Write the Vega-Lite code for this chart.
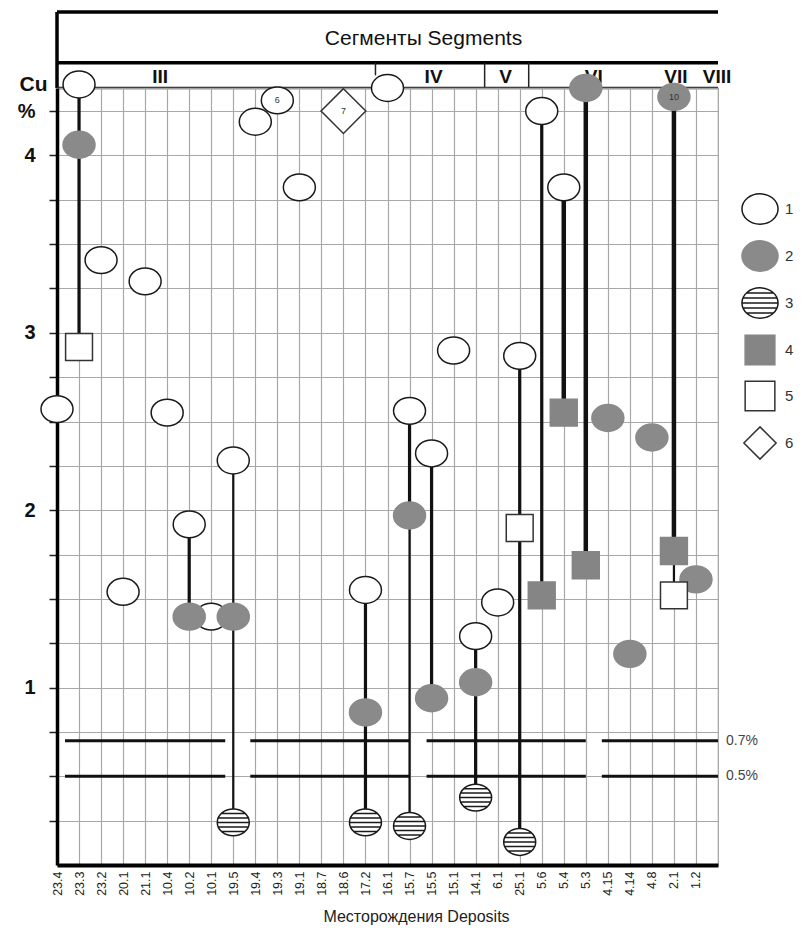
{
  "$schema": "https://vega.github.io/schema/vega-lite/v6.json",
  "padding": {"left": 16, "top": 10, "right": 5, "bottom": 5},
  "background": "white",
  "bounds": "flush",
  "config": {"font": "Liberation Sans", "view": {"stroke": null}},
  "spacing": 0,
  "resolve": {"scale": {"x": "independent", "y": "independent"}},
  "datasets": {
    "points": [
      {"dep": "23.4", "cu": 2.57, "type": "1"},
      {"dep": "23.3", "cu": 4.40, "type": "1"},
      {"dep": "23.2", "cu": 3.41, "type": "1"},
      {"dep": "20.1", "cu": 1.54, "type": "1"},
      {"dep": "21.1", "cu": 3.29, "type": "1"},
      {"dep": "10.4", "cu": 2.55, "type": "1"},
      {"dep": "10.2", "cu": 1.92, "type": "1"},
      {"dep": "10.1", "cu": 1.40, "type": "1"},
      {"dep": "19.5", "cu": 2.28, "type": "1"},
      {"dep": "19.4", "cu": 4.19, "type": "1"},
      {"dep": "19.3", "cu": 4.31, "type": "1"},
      {"dep": "19.1", "cu": 3.82, "type": "1"},
      {"dep": "17.2", "cu": 1.55, "type": "1"},
      {"dep": "16.1", "cu": 4.38, "type": "1"},
      {"dep": "15.7", "cu": 2.56, "type": "1"},
      {"dep": "15.5", "cu": 2.32, "type": "1"},
      {"dep": "15.1", "cu": 2.90, "type": "1"},
      {"dep": "14.1", "cu": 1.29, "type": "1"},
      {"dep": "6.1", "cu": 1.48, "type": "1"},
      {"dep": "25.1", "cu": 2.87, "type": "1"},
      {"dep": "5.6", "cu": 4.25, "type": "1"},
      {"dep": "5.4", "cu": 3.82, "type": "1"},
      {"dep": "23.3", "cu": 4.06, "type": "2"},
      {"dep": "10.2", "cu": 1.40, "type": "2"},
      {"dep": "19.5", "cu": 1.40, "type": "2"},
      {"dep": "17.2", "cu": 0.86, "type": "2"},
      {"dep": "15.7", "cu": 1.97, "type": "2"},
      {"dep": "15.5", "cu": 0.94, "type": "2"},
      {"dep": "14.1", "cu": 1.03, "type": "2"},
      {"dep": "5.3", "cu": 4.38, "type": "2"},
      {"dep": "4.15", "cu": 2.52, "type": "2"},
      {"dep": "4.14", "cu": 1.19, "type": "2"},
      {"dep": "4.8", "cu": 2.41, "type": "2"},
      {"dep": "2.1", "cu": 4.33, "type": "2"},
      {"dep": "1.2", "cu": 1.61, "type": "2"},
      {"dep": "19.5", "cu": 0.24, "type": "3"},
      {"dep": "17.2", "cu": 0.24, "type": "3"},
      {"dep": "15.7", "cu": 0.22, "type": "3"},
      {"dep": "14.1", "cu": 0.38, "type": "3"},
      {"dep": "25.1", "cu": 0.13, "type": "3"},
      {"dep": "5.6", "cu": 1.52, "type": "4"},
      {"dep": "5.4", "cu": 2.55, "type": "4"},
      {"dep": "5.3", "cu": 1.69, "type": "4"},
      {"dep": "2.1", "cu": 1.77, "type": "4"},
      {"dep": "23.3", "cu": 2.92, "type": "5"},
      {"dep": "25.1", "cu": 1.90, "type": "5"},
      {"dep": "2.1", "cu": 1.52, "type": "5"},
      {"dep": "18.6", "cu": 4.25, "type": "6"}
    ],
    "links": [
      {"dep": "23.3", "top": 4.40, "bot": 2.92},
      {"dep": "10.2", "top": 1.92, "bot": 1.40},
      {"dep": "17.2", "top": 1.55, "bot": 0.24},
      {"dep": "15.7", "top": 2.56, "bot": 1.97},
      {"dep": "15.5", "top": 2.32, "bot": 0.94},
      {"dep": "14.1", "top": 1.29, "bot": 0.38},
      {"dep": "25.1", "top": 2.87, "bot": 0.13},
      {"dep": "5.6", "top": 4.25, "bot": 1.52}
    ],
    "linksThin": [
      {"dep": "19.5", "top": 2.28, "bot": 0.24},
      {"dep": "15.7", "top": 1.97, "bot": 0.22},
      {"dep": "2.1", "top": 1.77, "bot": 1.52}
    ],
    "linksHeavy": [
      {"dep": "5.4", "top": 3.82, "bot": 2.55},
      {"dep": "5.3", "top": 4.38, "bot": 1.69},
      {"dep": "2.1", "top": 4.33, "bot": 1.77}
    ],
    "ref": [
      {"seg": 1, "level": 0.7, "from": "23.4", "to": "10.1"},
      {"seg": 1, "level": 0.5, "from": "23.4", "to": "10.1"},
      {"seg": 2, "level": 0.7, "from": "19.4", "to": "15.7"},
      {"seg": 2, "level": 0.5, "from": "19.4", "to": "15.7"},
      {"seg": 2, "level": 0.7, "from": "15.5", "to": "5.3"},
      {"seg": 2, "level": 0.5, "from": "15.5", "to": "5.3"},
      {"seg": 3, "level": 0.7, "from": "4.15", "to": "1.2"},
      {"seg": 3, "level": 0.5, "from": "4.15", "to": "1.2"}
    ],
    "refLabels": [
      {"level": 0.7, "text": "0.7%"},
      {"level": 0.5, "text": "0.5%"}
    ],
    "numbers": [
      {"dep": "19.3", "cu": 4.31, "n": "6"},
      {"dep": "18.6", "cu": 4.25, "n": "7"},
      {"dep": "2.1", "cu": 4.33, "n": "10"}
    ],
    "segments": [
      {"seg": "III", "at": "10.4", "grp": "a"},
      {"seg": "IV", "at": "15.5", "grp": "b"},
      {"seg": "VII", "at": "2.1", "grp": "b"},
      {"seg": "V", "at": "6.1", "grp": "c"},
      {"seg": "VI", "at": "5.3", "grp": "c"},
      {"seg": "VIII", "at": "1.2", "grp": "d"}
    ],
    "dividers": [
      {"after": "17.2", "kind": "short"},
      {"after": "14.1", "kind": "full"},
      {"after": "25.1", "kind": "full"}
    ]
  },
  "vconcat": [
    {
      "width": 661,
      "height": 76,
      "layer": [
        {
          "data": {"values": [{}]},
          "mark": {"type": "rule", "strokeWidth": 3.5, "color": "black"},
          "encoding": {"y": {"datum": 3, "type": "quantitative", "scale": {"domain": [0, 3], "nice": false}, "axis": null}}
        },
        {
          "data": {"values": [{}]},
          "mark": {"type": "rule", "strokeWidth": 3.5, "color": "black"},
          "encoding": {"y": {"datum": 1, "type": "quantitative", "scale": {"domain": [0, 3], "nice": false}, "axis": null}}
        },
        {
          "data": {"values": [{}]},
          "mark": {"type": "rule", "strokeWidth": 2.5, "color": "#222"},
          "encoding": {"y": {"datum": 0, "type": "quantitative", "scale": {"domain": [0, 3], "nice": false}, "axis": null}}
        },
        {
          "data": {"values": [{}]},
          "mark": {"type": "rule", "strokeWidth": 3.5, "color": "black"},
          "encoding": {"x": {"datum": "23.4", "type": "ordinal", "scale": {"type": "point", "domain": ["23.4","23.3","23.2","20.1","21.1","10.4","10.2","10.1","19.5","19.4","19.3","19.1","18.7","18.6","17.2","16.1","15.7","15.5","15.1","14.1","6.1","25.1","5.6","5.4","5.3","4.15","4.14","4.8","2.1","1.2"], "padding": 0.5, "align": 0}, "axis": null}}
        },
        {
          "data": {"values": [{"t": "Сегменты  Segments"}]},
          "mark": {"type": "text", "fontSize": 21, "dx": 36, "color": "#111"},
          "encoding": {
            "y": {"datum": 1.95, "type": "quantitative", "scale": {"domain": [0, 3], "nice": false}, "axis": null},
            "text": {"field": "t"}
          }
        },
        {
          "data": {"name": "dividers"},
          "transform": [{"filter": "datum.kind == 'short'"}],
          "mark": {"type": "rule", "strokeWidth": 1.5, "color": "#222", "xOffset": 10},
          "encoding": {
            "x": {"field": "after", "type": "ordinal", "axis": null},
            "y": {"datum": 1, "type": "quantitative", "scale": {"domain": [0, 3], "nice": false}, "axis": null},
            "y2": {"datum": 0.5}
          }
        },
        {
          "data": {"name": "dividers"},
          "transform": [{"filter": "datum.kind == 'full'"}],
          "mark": {"type": "rule", "strokeWidth": 1.5, "color": "#222", "xOffset": 9},
          "encoding": {
            "x": {"field": "after", "type": "ordinal", "axis": null},
            "y": {"datum": 1, "type": "quantitative", "scale": {"domain": [0, 3], "nice": false}, "axis": null},
            "y2": {"datum": 0}
          }
        },
        {
          "data": {"name": "segments"},
          "transform": [{"filter": "datum.grp == 'a'"}],
          "mark": {"type": "text", "fontSize": 19, "fontWeight": "bold", "dx": -7, "color": "#111"},
          "encoding": {
            "x": {"field": "at", "type": "ordinal", "axis": null},
            "y": {"datum": 0.45, "type": "quantitative", "scale": {"domain": [0, 3], "nice": false}, "axis": null},
            "text": {"field": "seg"}
          }
        },
        {
          "data": {"name": "segments"},
          "transform": [{"filter": "datum.grp == 'b'"}],
          "mark": {"type": "text", "fontSize": 19, "fontWeight": "bold", "dx": 2, "color": "#111"},
          "encoding": {
            "x": {"field": "at", "type": "ordinal", "axis": null},
            "y": {"datum": 0.45, "type": "quantitative", "scale": {"domain": [0, 3], "nice": false}, "axis": null},
            "text": {"field": "seg"}
          }
        },
        {
          "data": {"name": "segments"},
          "transform": [{"filter": "datum.grp == 'c'"}],
          "mark": {"type": "text", "fontSize": 19, "fontWeight": "bold", "dx": 8, "color": "#111"},
          "encoding": {
            "x": {"field": "at", "type": "ordinal", "axis": null},
            "y": {"datum": 0.45, "type": "quantitative", "scale": {"domain": [0, 3], "nice": false}, "axis": null},
            "text": {"field": "seg"}
          }
        },
        {
          "data": {"name": "segments"},
          "transform": [{"filter": "datum.grp == 'd'"}],
          "mark": {"type": "text", "fontSize": 19, "fontWeight": "bold", "dx": 21, "color": "#111"},
          "encoding": {
            "x": {"field": "at", "type": "ordinal", "axis": null},
            "y": {"datum": 0.45, "type": "quantitative", "scale": {"domain": [0, 3], "nice": false}, "axis": null},
            "text": {"field": "seg"}
          }
        }
      ]
    },
    {
      "width": 661,
      "height": 777,
      "view": {"stroke": "#a0a0a0", "strokeWidth": 1.2},
      "encoding": {
        "x": {
          "field": "dep",
          "type": "ordinal",
          "scale": {"type": "point", "domain": ["23.4","23.3","23.2","20.1","21.1","10.4","10.2","10.1","19.5","19.4","19.3","19.1","18.7","18.6","17.2","16.1","15.7","15.5","15.1","14.1","6.1","25.1","5.6","5.4","5.3","4.15","4.14","4.8","2.1","1.2"], "padding": 0.5, "align": 0},
          "axis": {
            "orient": "bottom",
            "title": "Месторождения Deposits",
            "titleFontSize": 16,
            "titleFontWeight": "normal",
            "titleColor": "#222",
            "titleX": 359,
            "titleY": 56,
            "titleBaseline": "alphabetic",
            "labelAngle": -90,
            "labelFontSize": 12.5,
            "labelColor": "#222",
            "labelPadding": 6,
            "ticks": false,
            "domainColor": "black",
            "domainWidth": 4,
            "grid": true,
            "gridColor": "#a8a8a8",
            "gridWidth": 1.2
          }
        },
        "y": {
          "field": "cu",
          "type": "quantitative",
          "scale": {"domain": [0, 4.38], "nice": false, "zero": true},
          "axis": {
            "values": [0.25, 0.5, 0.75, 1, 1.25, 1.5, 1.75, 2, 2.25, 2.5, 2.75, 3, 3.25, 3.5, 3.75, 4, 4.25],
            "labelExpr": "datum.value == 4.25 ? '%' : (datum.value % 1 == 0 ? format(datum.value, 'd') : '')",
            "labelFontSize": 20,
            "labelFontWeight": "bold",
            "labelColor": "#111",
            "labelPadding": 14,
            "tickSize": 8,
            "tickWidth": 1.5,
            "tickColor": "#222",
            "domainColor": "black",
            "domainWidth": 3.5,
            "grid": true,
            "gridColor": "#a8a8a8",
            "gridWidth": 1.2,
            "title": "Cu",
            "titleAngle": 0,
            "titleAlign": "center",
            "titleBaseline": "middle",
            "titleX": -24,
            "titleY": -4,
            "titleFontSize": 21,
            "titleFontWeight": "bold",
            "titleColor": "#111"
          }
        }
      },
      "layer": [
        {
          "data": {"name": "ref"},
          "transform": [{"filter": "datum.seg == 1"}],
          "mark": {"type": "rule", "strokeWidth": 3, "color": "#111", "xOffset": 8, "x2Offset": 14},
          "encoding": {
            "x": {"field": "from", "type": "ordinal"},
            "x2": {"field": "to"},
            "y": {"field": "level", "type": "quantitative"}
          }
        },
        {
          "data": {"name": "ref"},
          "transform": [{"filter": "datum.seg == 2"}],
          "mark": {"type": "rule", "strokeWidth": 3, "color": "#111", "xOffset": -5, "x2Offset": 0},
          "encoding": {
            "x": {"field": "from", "type": "ordinal"},
            "x2": {"field": "to"},
            "y": {"field": "level", "type": "quantitative"}
          }
        },
        {
          "data": {"name": "ref"},
          "transform": [{"filter": "datum.seg == 3"}],
          "mark": {"type": "rule", "strokeWidth": 3, "color": "#111", "xOffset": -6, "x2Offset": 22},
          "encoding": {
            "x": {"field": "from", "type": "ordinal"},
            "x2": {"field": "to"},
            "y": {"field": "level", "type": "quantitative"}
          }
        },
        {
          "data": {"name": "refLabels"},
          "mark": {"type": "text", "align": "left", "dx": 30, "fontSize": 14, "color": "#444"},
          "encoding": {
            "x": {"datum": "1.2", "type": "ordinal"},
            "y": {"field": "level", "type": "quantitative"},
            "text": {"field": "text"}
          }
        },
        {
          "data": {"name": "links"},
          "mark": {"type": "rule", "strokeWidth": 3.2, "color": "#111"},
          "encoding": {
            "y": {"field": "top", "type": "quantitative"},
            "y2": {"field": "bot"}
          }
        },
        {
          "data": {"name": "linksThin"},
          "mark": {"type": "rule", "strokeWidth": 2.2, "color": "#111"},
          "encoding": {
            "y": {"field": "top", "type": "quantitative"},
            "y2": {"field": "bot"}
          }
        },
        {
          "data": {"name": "linksHeavy"},
          "mark": {"type": "rule", "strokeWidth": 4.5, "color": "#111"},
          "encoding": {
            "y": {"field": "top", "type": "quantitative"},
            "y2": {"field": "bot"}
          }
        },
        {
          "data": {"name": "points"},
          "mark": {"type": "point", "filled": true, "opacity": 1, "size": 1024, "strokeWidth": 1.5},
          "encoding": {
            "shape": {
              "field": "type",
              "type": "nominal",
              "scale": {
                "domain": ["1", "2", "3", "4", "5", "6"],
                "range": [
                  "M-1,0A1,0.84,0,1,1,1,0A1,0.84,0,1,1,-1,0Z",
                  "M-1,0A1,0.84,0,1,1,1,0A1,0.84,0,1,1,-1,0Z",
                  "M-1,0A1,0.84,0,1,1,1,0A1,0.84,0,1,1,-1,0ZM-0.75,-0.56L0.75,-0.56M-0.94,-0.28L0.94,-0.28M-1,0L1,0M-0.94,0.28L0.94,0.28M-0.75,0.56L0.75,0.56",
                  "M-0.84,-0.84L0.84,-0.84L0.84,0.84L-0.84,0.84Z",
                  "M-0.84,-0.84L0.84,-0.84L0.84,0.84L-0.84,0.84Z",
                  "M0,-1.4L1.4,0L0,1.4L-1.4,0Z"
                ]
              },
              "legend": {
                "title": null,
                "orient": "none",
                "legendX": 684,
                "legendY": 178,
                "padding": 0,
                "symbolSize": 1300,
                "symbolStrokeWidth": 1.5,
                "symbolOpacity": 1,
                "labelFontSize": 15,
                "labelColor": "#333",
                "labelOffset": 6,
                "rowPadding": 9,
                "encode": {"symbols": {"update": {"size": {"signal": "datum.value == '6' ? 530 : (datum.value == '4' || datum.value == '5' ? 1250 : 1300)"}}}}
              }
            },
            "fill": {
              "field": "type",
              "type": "nominal",
              "scale": {"domain": ["1", "2", "3", "4", "5", "6"], "range": ["#ffffff", "#8a8a8a", "#ffffff", "#858585", "#ffffff", "#ffffff"]},
              "legend": {
                "title": null,
                "orient": "none",
                "legendX": 684,
                "legendY": 178,
                "padding": 0,
                "symbolSize": 1300,
                "symbolStrokeWidth": 1.5,
                "symbolOpacity": 1,
                "labelFontSize": 15,
                "labelColor": "#333",
                "labelOffset": 6,
                "rowPadding": 9,
                "encode": {"symbols": {"update": {"size": {"signal": "datum.value == '6' ? 530 : (datum.value == '4' || datum.value == '5' ? 1250 : 1300)"}}}}
              }
            },
            "stroke": {
              "field": "type",
              "type": "nominal",
              "scale": {"domain": ["1", "2", "3", "4", "5", "6"], "range": ["#1a1a1a", "#8a8a8a", "#1a1a1a", "#858585", "#333333", "#333333"]},
              "legend": {
                "title": null,
                "orient": "none",
                "legendX": 684,
                "legendY": 178,
                "padding": 0,
                "symbolSize": 1300,
                "symbolStrokeWidth": 1.5,
                "symbolOpacity": 1,
                "labelFontSize": 15,
                "labelColor": "#333",
                "labelOffset": 6,
                "rowPadding": 9,
                "encode": {"symbols": {"update": {"size": {"signal": "datum.value == '6' ? 530 : (datum.value == '4' || datum.value == '5' ? 1250 : 1300)"}}}}
              }
            }
          }
        },
        {
          "data": {"name": "numbers"},
          "mark": {"type": "text", "fontSize": 9, "color": "#333"},
          "encoding": {
            "text": {"field": "n"}
          }
        }
      ]
    }
  ]
}
